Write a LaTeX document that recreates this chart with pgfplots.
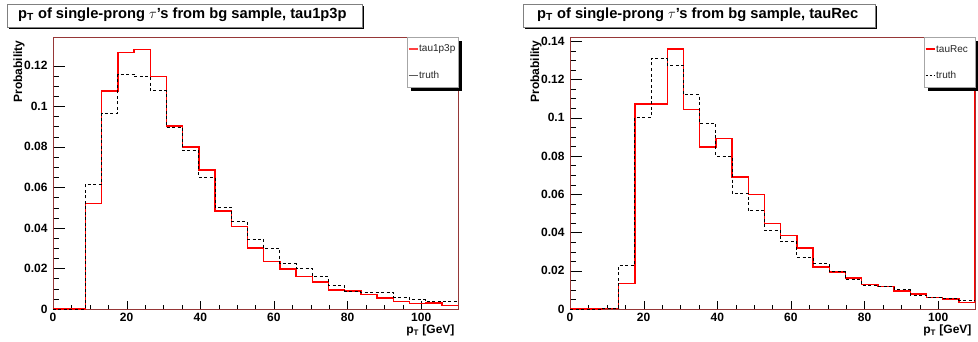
\documentclass[border=0pt]{standalone}
\usepackage{pgfplots}
\pgfplotsset{compat=1.18}
\usepackage{fontspec}
\setmainfont{Liberation Sans}
\definecolor{framered}{RGB}{150,55,55}
\tikzset{legtext/.style={anchor=west, inner sep=0pt, font=\fontsize{10}{10}\selectfont, text=black!85}}
\pgfplotsset{
  rootstyle/.style={
    scale only axis, width=405pt, height=272pt,
    xmin=0, xmax=110, ymin=0,
    axis line style={framered, line width=0.6pt},
    tick align=inside, xtick pos=bottom, ytick pos=left,
    xtick={0,20,...,100}, minor x tick num=3,
    ytick={0,0.02,...,0.14}, minor y tick num=3,
    xtick style={black, /pgfplots/major tick length=8pt, /pgfplots/minor tick length=4.5pt},
    ytick style={black, /pgfplots/major tick length=12pt, /pgfplots/minor tick length=6pt},
    /pgf/number format/assume math mode=true,
    /pgf/number format/fixed,
    ticklabel style={font=\bfseries\fontsize{12}{12}\selectfont},
    yticklabel style={xshift=-2pt},
    xticklabel style={yshift=-1pt},
    ylabel={\bfseries Probability},
    ylabel style={font=\fontsize{12}{12}\selectfont, at={(rel axis cs:-0.084,1)}, anchor=east},
    xlabel={\bfseries p\textsubscript{T} [GeV]},
    xlabel style={font=\fontsize{12}{12}\selectfont, at={(rel axis cs:1,-0.045)}, anchor=north east},
    clip=true,
  },
  redhist/.style={red, line width=1.4pt, const plot mark left, mark=none, forget plot},
  blackhist/.style={black, line width=0.9pt, dash pattern=on 3pt off 2.5pt, const plot mark left, mark=none, forget plot},
}
\pgfplotstableread{
x     y
0     0
4.4   0
8.8   0.0522
13.2  0.1076
17.6  0.1266
22    0.1279
26.4  0.1148
30.8  0.0903
35.2  0.0800
39.6  0.0685
44    0.0483
48.4  0.0406
52.8  0.0300
57.2  0.0235
61.6  0.0197
66    0.0159
70.4  0.0133
74.8  0.0094
79.2  0.0089
83.6  0.0071
88    0.0054
92.4  0.0038
96.8  0.0026
101.2 0.0030
105.6 0.0018
110   0.0018
}\leftred
\pgfplotstableread{
x     y
0     0
4.4   0
8.8   0.0616
13.2  0.0967
17.6  0.1159
22    0.1146
26.4  0.1076
30.8  0.0898
35.2  0.0782
39.6  0.0650
44    0.0501
48.4  0.0430
52.8  0.0345
57.2  0.0300
61.6  0.0223
66    0.0199
70.4  0.0161
74.8  0.0117
79.2  0.0089
83.6  0.0084
88    0.0084
92.4  0.0059
96.8  0.0046
101.2 0.0038
105.6 0.0036
110   0.0036
}\leftblack
\pgfplotstableread{
x     y
0     0
4.4   0
8.8   0.0002
13.2  0.0134
17.6  0.1071
22    0.1071
26.4  0.1359
30.8  0.1042
35.2  0.0846
39.6  0.0892
44    0.0691
48.4  0.0599
52.8  0.0447
57.2  0.0384
61.6  0.0319
66    0.0220
70.4  0.0194
74.8  0.0162
79.2  0.0129
83.6  0.0117
88    0.0094
92.4  0.0079
96.8  0.0059
101.2 0.0052
105.6 0.0035
110   0.0035
110   0.2
}\rightred
\pgfplotstableread{
x     y
0     0
4.4   0
8.8   0.0005
13.2  0.0229
17.6  0.1002
22    0.1309
26.4  0.1274
30.8  0.1120
35.2  0.0970
39.6  0.0799
44    0.0604
48.4  0.0513
52.8  0.0410
57.2  0.0351
61.6  0.0269
66    0.0237
70.4  0.0194
74.8  0.0152
79.2  0.0122
83.6  0.0117
88    0.0101
92.4  0.0073
96.8  0.0059
101.2 0.0056
105.6 0.0044
110   0.0044
}\rightblack
\begin{document}
\begin{tikzpicture}
\useasboundingbox (0,0) rectangle (978pt,341pt);
% title boxes
\fill[black] (9pt,312pt) rectangle (364pt,335pt);
\draw[gray, fill=white, line width=0.6pt] (7pt,314pt) rectangle (362pt,337pt);
\node[anchor=west, font=\bfseries\fontsize{14.7}{15}\selectfont, inner sep=0pt] at (18pt,326pt) {p\textsubscript{T} of single-prong $\tau$'s from bg sample, tau1p3p};
\fill[black] (525pt,312pt) rectangle (877pt,335pt);
\draw[gray, fill=white, line width=0.6pt] (523pt,314pt) rectangle (875pt,337pt);
\node[anchor=west, font=\bfseries\fontsize{14.7}{15}\selectfont, inner sep=0pt] at (537pt,326pt) {p\textsubscript{T} of single-prong $\tau$'s from bg sample, tauRec};

\begin{axis}[rootstyle, at={(53pt,32pt)}, anchor=south west, ymax=0.1342,
  ytick={0,0.02,...,0.12}]
\addplot[redhist] table {\leftred};
\addplot[blackhist] table {\leftblack};
\end{axis}

\begin{axis}[rootstyle, at={(570pt,32pt)}, anchor=south west, ymax=0.1422,
  ytick={0,0.02,...,0.14}]
\addplot[redhist] table {\rightred};
\addplot[blackhist] table {\rightblack};
\end{axis}

% legend boxes
\fill[black] (411pt,250pt) rectangle (462pt,300pt);
\draw[gray!70, fill=white, line width=0.6pt] (407pt,254pt) rectangle (458pt,304pt);
\draw[red!75, line width=1.1pt] (408.5pt,292pt) -- (418pt,292pt);
\node[legtext] at (419pt,292pt) {tau1p3p};
\draw[black!65, line width=1pt] (408.5pt,266pt) -- (418pt,266pt);
\node[legtext] at (419pt,266pt) {truth};

\fill[black] (928pt,250pt) rectangle (978pt,300pt);
\draw[gray!70, fill=white, line width=0.6pt] (924pt,254pt) rectangle (975pt,304pt);
\draw[red, line width=1.1pt] (925.5pt,292pt) -- (935pt,292pt);
\node[legtext] at (936pt,292pt) {tauRec};
\draw[black, line width=1pt, dash pattern=on 2.5pt off 1.5pt] (925.5pt,266pt) -- (935pt,266pt);
\node[legtext] at (936pt,266pt) {truth};
\end{tikzpicture}
\end{document}
